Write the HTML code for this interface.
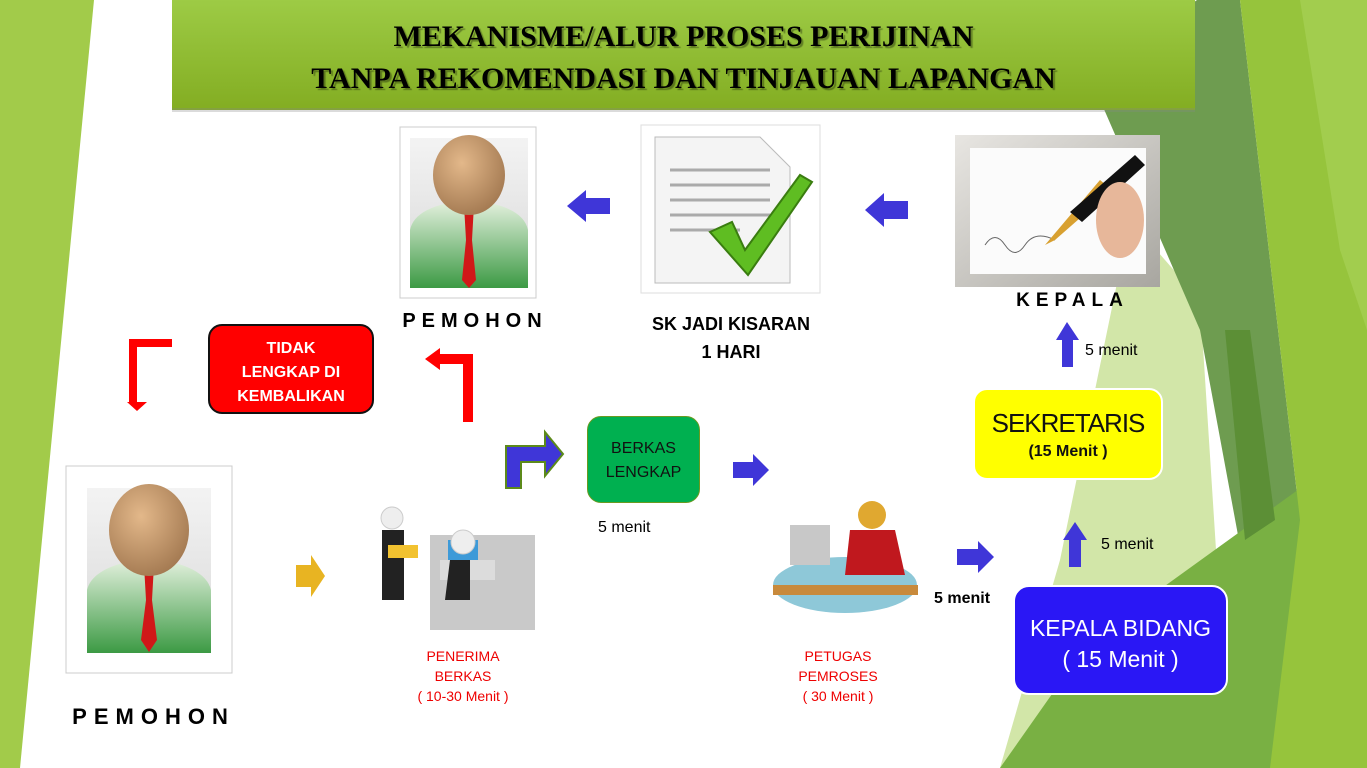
<!DOCTYPE html>
<html><head><meta charset="utf-8">
<style>
body{margin:0;width:1367px;height:768px;overflow:hidden;background:#fff;font-family:"Liberation Sans","DejaVu Sans",sans-serif;}
.a{position:absolute;}
.t{position:absolute;white-space:nowrap;text-align:center;}
</style></head><body>
<svg class="a" style="left:0;top:0" width="1367" height="768">
<defs>
<linearGradient id="tg" x1="0" y1="0" x2="0" y2="1"><stop offset="0" stop-color="#9dcb45"/><stop offset="1" stop-color="#83ad22"/></linearGradient>
<linearGradient id="fr" x1="0" y1="0" x2="1" y2="1"><stop offset="0" stop-color="#e8e6e2"/><stop offset="1" stop-color="#a8a6a0"/></linearGradient>
<linearGradient id="pbg" x1="0" y1="0" x2="0" y2="1"><stop offset="0" stop-color="#f3f3f3"/><stop offset="1" stop-color="#d8d8d8"/></linearGradient>
<linearGradient id="body" x1="0" y1="0" x2="0" y2="1"><stop offset="0" stop-color="#e6f2e0"/><stop offset="1" stop-color="#3c9a44"/></linearGradient>
<radialGradient id="head" cx="0.4" cy="0.35" r="0.7"><stop offset="0" stop-color="#e3b88a"/><stop offset="1" stop-color="#a27850"/></radialGradient>
</defs>
<polygon points="0,0 94,0 20,768 0,768" fill="#a2cb4a"/>
<polygon points="1130,220 1200,300 1230,768 1000,768 1060,560" fill="#d2e6a8"/>
<polygon points="1090,77 1197,0 1240,0 1300,520 1250,600 1200,330" fill="#6e9c50"/>
<polygon points="1000,768 1090,640 1367,440 1367,768" fill="#79b043"/>
<polygon points="1240,0 1367,0 1367,768 1270,768 1300,520" fill="#96c43c"/>
<polygon points="1300,0 1367,0 1367,330 1340,250" fill="#a2cd4e"/>
<polygon points="1225,330 1250,330 1275,520 1245,540" fill="#5c8f36"/>
<rect x="172" y="0" width="1023" height="110" fill="url(#tg)"/>
<rect x="172" y="108" width="1023" height="4" fill="#888" opacity="0.3"/>
<rect x="400" y="127" width="136" height="171" fill="#fff" stroke="#ccc"/>
<rect x="410" y="138" width="118" height="150" fill="url(#pbg)"/>
<path d="M410,288 L410,230 Q415,205 469,200 Q523,205 528,230 L528,288Z" fill="url(#body)"/>
<polygon points="464,205 474,205 472,240 476,280 469,288 462,280 466,240" fill="#d01818"/>
<ellipse cx="469" cy="175" rx="36" ry="40" fill="url(#head)"/>
<rect x="66" y="466" width="166" height="207" fill="#fff" stroke="#ccc"/>
<rect x="87" y="488" width="124" height="165" fill="url(#pbg)"/>
<path d="M87,653 L87,590 Q93,565 149,558 Q205,565 211,590 L211,653Z" fill="url(#body)"/>
<polygon points="144,565 154,565 152,600 157,640 149,652 141,640 146,600" fill="#d01818"/>
<ellipse cx="149" cy="530" rx="40" ry="46" fill="url(#head)"/>
<rect x="641" y="125" width="179" height="168" fill="#fff" stroke="#ddd"/>
<path d="M655,137 L760,137 L790,167 L790,283 L655,283Z" fill="#f4f4f4" stroke="#bbb"/>
<g stroke="#aaa" stroke-width="3"><line x1="670" y1="170" x2="770" y2="170"/><line x1="670" y1="185" x2="770" y2="185"/><line x1="670" y1="200" x2="770" y2="200"/><line x1="670" y1="215" x2="770" y2="215"/><line x1="670" y1="230" x2="740" y2="230"/></g>
<path d="M710,232 L732,222 L745,250 L800,175 L812,182 L748,275 Z" fill="#5fbd22" stroke="#3a7d10" stroke-width="2"/>
<rect x="955" y="135" width="205" height="152" fill="url(#fr)"/>
<rect x="970" y="148" width="176" height="126" fill="#fbfbfb"/>
<path d="M985,245 q10,-15 20,0 t20,0 t30,-5" stroke="#666" fill="none"/>
<polygon points="1045,245 1100,180 1112,190 1055,240" fill="#d8a030"/>
<polygon points="1070,212 1135,155 1145,165 1082,222" fill="#111"/>
<ellipse cx="1120" cy="220" rx="24" ry="38" fill="#e7b79a"/>
<rect x="430" y="535" width="105" height="95" fill="#c9c9c9"/>
<rect x="440" y="560" width="55" height="20" fill="#dcdcdc"/>
<rect x="448" y="540" width="30" height="20" fill="#3d9ad8"/>
<path d="M450,560 L470,560 L470,600 L445,600Z" fill="#222"/>
<circle cx="463" cy="542" r="12" fill="#eee" stroke="#ccc"/>
<circle cx="392" cy="518" r="11" fill="#eee" stroke="#ccc"/>
<rect x="382" y="530" width="22" height="70" fill="#222"/>
<rect x="388" y="545" width="30" height="13" fill="#f2c230"/>
<ellipse cx="845" cy="585" rx="72" ry="28" fill="#8ec8d8"/>
<rect x="773" y="585" width="145" height="10" fill="#c88a3c"/>
<rect x="790" y="525" width="40" height="40" fill="#c8c8c8"/>
<circle cx="872" cy="515" r="14" fill="#e0a830"/>
<path d="M850,530 L895,530 L905,575 L845,575Z" fill="#c0181e"/>
<path d="M172,343 L133,343 L133,402" stroke="#f00" stroke-width="8" fill="none"/>
<polygon points="127,402 147,402 137,411" fill="#f00"/>
<path d="M468,422 L468,359 L440,359" stroke="#f00" stroke-width="10" fill="none"/>
<polygon points="440,348 440,370 425,359" fill="#f00"/>
<polygon points="506,488 506,446 545,446 545,432 563,454 545,476 545,462 521,462 521,488" fill="#3f36d8" stroke="#5c8a1a" stroke-width="2"/>
<polygon points="610,198 586,198 586,190 567,206 586,222 586,214 610,214" fill="#3f36d8"/>
<polygon points="908,201 884,201 884,193 865,210 884,227 884,219 908,219" fill="#3f36d8"/>
<polygon points="1062,367 1062,340 1056,340 1067,322 1079,340 1073,340 1073,367" fill="#3f36d8"/>
<polygon points="1069,567 1069,540 1063,540 1075,522 1087,540 1081,540 1081,567" fill="#3f36d8"/>
<polygon points="733,462 753,462 753,454 769,470 753,486 753,478 733,478" fill="#3f36d8"/>
<polygon points="957,549 978,549 978,541 994,557 978,573 978,565 957,565" fill="#3f36d8"/>
<polygon points="296,565 311,565 311,555 325,576 311,597 311,587 296,587" fill="#e8b422"/>
</svg>

<div class="t" style="left:172px;top:16px;width:1023px;font:bold 30px/42px 'Liberation Serif',serif;color:#000;text-shadow:2px 2px 1px rgba(0,0,0,0.35)">MEKANISME/ALUR PROSES PERIJINAN<br>TANPA REKOMENDASI DAN TINJAUAN LAPANGAN</div>

<div class="t" style="left:400px;top:310px;width:150px;font:bold 20px 'Liberation Sans';letter-spacing:6px">PEMOHON</div>
<div class="t" style="left:66px;top:704px;width:175px;font:bold 22px 'Liberation Sans';letter-spacing:7px">PEMOHON</div>
<div class="t" style="left:1010px;top:290px;width:125px;font:bold 19px 'Liberation Sans';letter-spacing:6px">KEPALA</div>
<div class="t" style="left:631px;top:310px;width:200px;font:bold 18px/28px 'Liberation Sans'">SK JADI KISARAN<br>1 HARI</div>

<div class="a" style="left:208px;top:324px;width:166px;height:90px;background:#f00;border:2px solid #111;border-radius:14px;color:#fff;font:bold 16px/24px 'Liberation Sans';text-align:center;padding-top:11px;box-sizing:border-box">TIDAK<br>LENGKAP DI<br>KEMBALIKAN</div>

<div class="a" style="left:587px;top:416px;width:113px;height:87px;background:#00b050;border:1px solid #6a9a20;border-radius:14px;font:16px/24px 'Liberation Sans';text-align:center;padding-top:20px;box-sizing:border-box;color:#111">BERKAS<br>LENGKAP</div>
<div class="t" style="left:598px;top:519px;font:16px 'Liberation Sans'">5 menit</div>

<div class="a" style="left:973px;top:388px;width:190px;height:92px;background:#ff0;border:2px solid #fff;border-radius:14px;text-align:center;box-sizing:border-box;padding-top:18px;color:#111"><div style="font:26px 'Liberation Sans';letter-spacing:-1px">SEKRETARIS</div><div style="font:bold 16px 'Liberation Sans';margin-top:4px">(15 Menit )</div></div>
<div class="t" style="left:1085px;top:342px;font:16px 'Liberation Sans'">5 menit</div>
<div class="t" style="left:1101px;top:536px;font:16px 'Liberation Sans'">5 menit</div>
<div class="t" style="left:934px;top:590px;font:bold 16px 'Liberation Sans'">5 menit</div>

<div class="a" style="left:1013px;top:585px;width:215px;height:110px;background:#2a17f5;border:2px solid #fff;border-radius:16px;color:#fff;text-align:center;box-sizing:border-box;padding-top:26px;font:23px/31px 'Liberation Sans'">KEPALA BIDANG<br>( 15 Menit )</div>

<div class="t" style="left:393px;top:646px;width:140px;font:14px/20px 'Liberation Sans';color:#e00">PENERIMA<br>BERKAS<br>( 10-30 Menit )</div>
<div class="t" style="left:768px;top:646px;width:140px;font:14px/20px 'Liberation Sans';color:#e00">PETUGAS<br>PEMROSES<br>( 30 Menit )</div>
</body></html>
